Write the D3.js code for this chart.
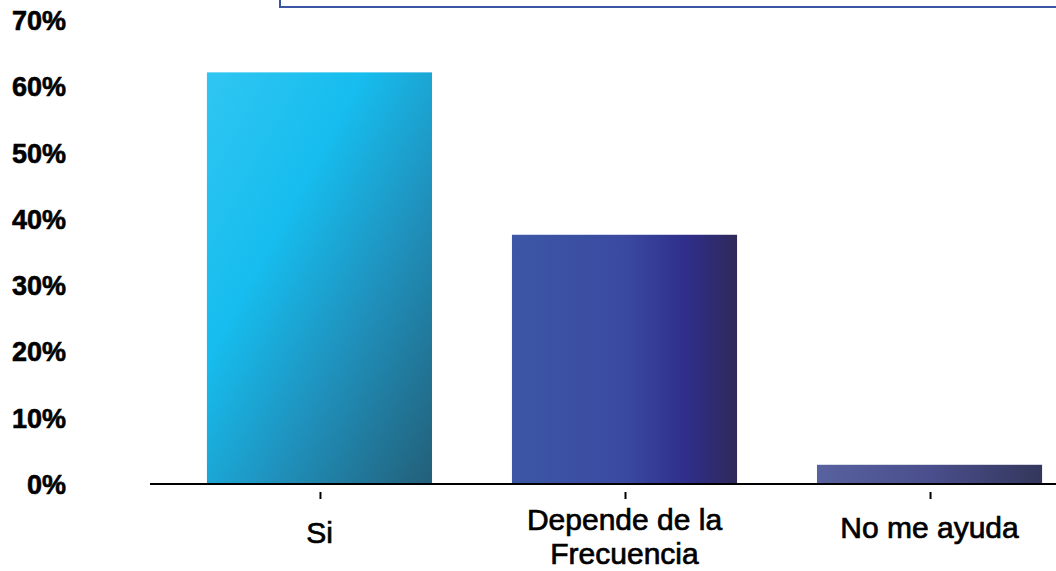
<!DOCTYPE html>
<html>
<head>
<meta charset="utf-8">
<script src="https://cdn.jsdelivr.net/npm/d3@7"></script>
<style>
  html, body { margin: 0; padding: 0; background: #fff; }
  svg { display: block; }
</style>
</head>
<body>
<div id="viz"></div>
<script>
// chart data
var categories = ["Si", "Depende de la Frecuencia", "No me ayuda"];
var labelLines = [["Si"], ["Depende de la", "Frecuencia"], ["No me ayuda"]];
var values = [62.1, 37.6, 2.9];
var yTicks = [0, 10, 20, 30, 40, 50, 60, 70];

var W = 1056, H = 571;

var svg = d3.select("#viz")
  .append("svg")
  .attr("width", W)
  .attr("height", H);

var defs = svg.append("defs");

// gradients for each bar
var g0 = defs.append("linearGradient").attr("id", "grad0")
  .attr("x1", 0).attr("y1", 0).attr("x2", 1).attr("y2", 1);
[["0", "#30c6f2"], ["0.35", "#16bdee"], ["0.62", "#1f94c0"], ["1", "#235f79"]].forEach(function(s) {
  g0.append("stop").attr("offset", s[0]).attr("stop-color", s[1]);
});

var g1 = defs.append("linearGradient").attr("id", "grad1")
  .attr("x1", 0).attr("y1", 0).attr("x2", 1).attr("y2", 0);
[["0", "#3c57a6"], ["0.5", "#3a4aa0"], ["0.78", "#2f2e8a"], ["1", "#2f295a"]].forEach(function(s) {
  g1.append("stop").attr("offset", s[0]).attr("stop-color", s[1]);
});

var g2 = defs.append("linearGradient").attr("id", "grad2")
  .attr("x1", 0).attr("y1", 0).attr("x2", 1).attr("y2", 0);
[["0", "#58629f"], ["0.5", "#4a4e8c"], ["1", "#33375c"]].forEach(function(s) {
  g2.append("stop").attr("offset", s[0]).attr("stop-color", s[1]);
});

// cropped frame at the top
svg.append("rect")
  .attr("x", 280)
  .attr("y", -20)
  .attr("width", 900)
  .attr("height", 27)
  .style("fill", "none")
  .style("stroke", "#3d55a5")
  .style("stroke-width", 2);

var x = d3.scaleBand()
  .domain(categories)
  .range([127, 1122])
  .padding(0.262);

var y = d3.scaleLinear()
  .domain([0, 70])
  .range([484, 20]);

// bars
svg.selectAll("rect.bar")
  .data(values)
  .enter()
  .append("rect")
  .attr("class", "bar")
  .attr("x", function(d, i) { return x(categories[i]); })
  .attr("y", function(d) { return y(d); })
  .attr("width", x.bandwidth())
  .attr("height", function(d) { return y(0) - y(d); })
  .style("fill", function(d, i) { return "url(#grad" + i + ")"; });

// y labels
svg.selectAll("text.ylab")
  .data(yTicks)
  .enter()
  .append("text")
  .attr("class", "ylab")
  .attr("x", 66)
  .attr("y", function(d) { return y(d) + 10; })
  .attr("text-anchor", "end")
  .style("font-family", "'Liberation Sans', Arial, sans-serif")
  .style("font-weight", "bold")
  .style("font-size", "27px")
  .style("fill", "#000")
  .style("stroke", "#000")
  .style("stroke-width", 0.6)
  .text(function(d) { return d + "%"; });

// x axis line
svg.append("line")
  .attr("x1", 150)
  .attr("x2", W)
  .attr("y1", y(0))
  .attr("y2", y(0))
  .style("stroke", "#000")
  .style("stroke-width", 2);

// tick marks
svg.selectAll("line.tick")
  .data(categories)
  .enter()
  .append("line")
  .attr("class", "tick")
  .attr("x1", function(d) { return x(d) + x.bandwidth() / 2 + 1; })
  .attr("x2", function(d) { return x(d) + x.bandwidth() / 2 + 1; })
  .attr("y1", 492)
  .attr("y2", 499)
  .style("stroke", "#000")
  .style("stroke-width", 2);

// category labels
var baseY = [543, 530, 538];
svg.selectAll("text.xlab")
  .data(categories)
  .enter()
  .append("text")
  .attr("class", "xlab")
  .attr("text-anchor", "middle")
  .attr("x", function(d) { return x(d) + x.bandwidth() / 2; })
  .attr("y", function(d, i) { return baseY[i]; })
  .style("font-family", "'Liberation Sans', Arial, sans-serif")
  .style("font-size", "30px")
  .style("fill", "#000")
  .style("stroke", "#000")
  .style("stroke-width", 0.7)
  .each(function(d, i) {
    var t = d3.select(this);
    labelLines[i].forEach(function(line, j) {
      t.append("tspan")
        .attr("x", x(d) + x.bandwidth() / 2)
        .attr("dy", j == 0 ? 0 : 34)
        .text(line);
    });
  });
</script>
</body>
</html>
